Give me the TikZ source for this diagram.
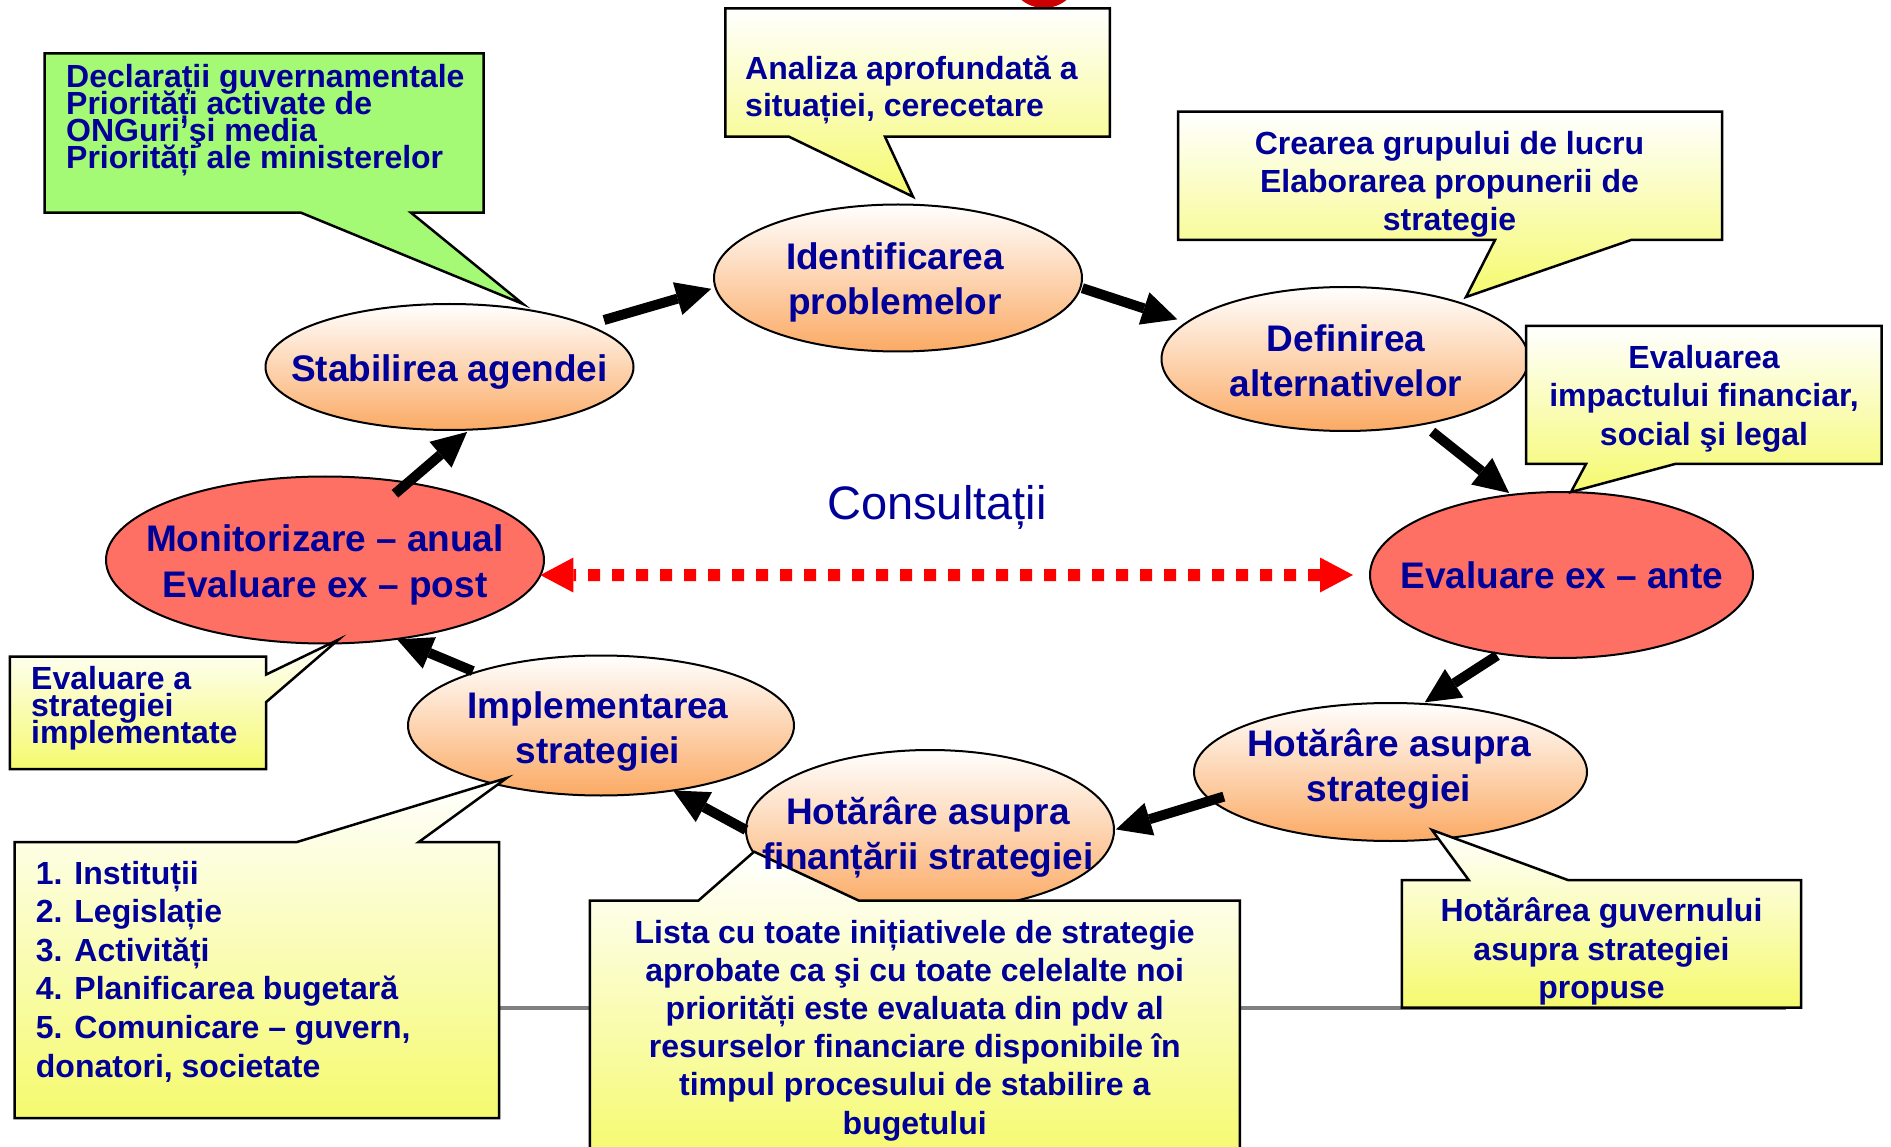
\documentclass[tikz,border=0pt]{standalone}
\usepackage{fontspec}
\setmainfont{Liberation Sans}
\usepackage{xcolor}
\usepackage{tikz}
\usetikzlibrary{shapes.geometric, arrows.meta, positioning, calc}

\definecolor{albastru}{RGB}{0,0,153}
\definecolor{portocaliu}{RGB}{251,170,100}
\definecolor{rosu}{RGB}{255,112,100}
\definecolor{rosuinchis}{RGB}{204,0,0}
\definecolor{galben}{RGB}{245,250,110}
\definecolor{verde}{RGB}{164,250,116}

\newcommand{\randstrans}{\lineskiplimit -50pt\relax}

\tikzset{
    etapa/.style={ellipse, draw=black, line width=2pt, inner sep=0pt, outer sep=0pt, top color=white, bottom color=portocaliu},
    evaluare/.style={ellipse, draw=black, line width=2pt, inner sep=0pt, outer sep=0pt, fill=rosu},
    etext/.style={text=albastru, font=\bfseries\fontsize{37}{45}\selectfont, align=center, inner sep=0pt, anchor=base},
    btext/.style={text=albastru, font=\bfseries\fontsize{32}{38}\selectfont, inner sep=0pt},
    strans/.style={font={\bfseries\fontsize{32}{27}\selectfont\randstrans}},
    balon/.style={draw=black, line width=2.5pt, top color=white, bottom color=galben},
    sageata/.style={line width=10pt, -{Triangle[length=35pt, width=34pt, line width=0pt]}},
    consult/.style={red, line width=12pt, dash pattern=on 12pt off 12pt,
        {Triangle[length=33pt, width=35pt, line width=0pt]}-{Triangle[length=33pt, width=35pt, line width=0pt]}}
}

\begin{document}
\begin{tikzpicture}[x=1pt, y=-1pt]

    \useasboundingbox (0,0) rectangle (1891,1147);
    \clip (0,0) rectangle (1891,1147);

    % Cercul rosu de sus (taiat de margine)
    \fill[rosuinchis] (1044,-27.6) circle (35.6pt);

    % Linia gri de jos, in spatele casetelor
    \draw[gray, line width=4pt] (499,1008) -- (1786,1008);

    % Etapele ciclului: elipse portocalii
    \node[etapa, minimum width=368pt, minimum height=126pt] (stab) at (449.5,367) {};
    \node[etapa, minimum width=368pt, minimum height=147pt] (ident) at (898,278) {};
    \node[etapa, minimum width=367pt, minimum height=144pt] (defin) at (1345,359) {};
    \node[etapa, minimum width=393pt, minimum height=138pt] (hotstr) at (1390.5,772) {};
    \node[etapa, minimum width=368pt, minimum height=160pt] (hotfin) at (930,830) {};
    \node[etapa, minimum width=386pt, minimum height=140pt] (impl) at (601,725.5) {};

    % Evaluarile: elipse rosii
    \node[evaluare, minimum width=383pt, minimum height=166pt] (exante) at (1561.5,575) {};
    \node[evaluare, minimum width=438pt, minimum height=167pt] (monit) at (325,560) {};

    % Baloanele cu explicatii
    \draw[line width=2.5pt, fill=verde] (44.6,53.3) -- (483.5,53.3) -- (483.5,212.7) -- (411,212.7)
        -- (523,304) -- (301,212.7) -- (44.6,212.7) -- cycle;
    \draw[balon] (725.4,8.3) -- (1109.8,8.3) -- (1109.8,136.7) -- (885,136.7)
        -- (913,196.7) -- (789,136.7) -- (725.4,136.7) -- cycle;
    \draw[balon] (1178,111.6) -- (1722,111.6) -- (1722,240) -- (1631,240)
        -- (1466,297) -- (1495,240) -- (1178,240) -- cycle;
    \draw[balon] (1526,326) -- (1881.6,326) -- (1881.6,464) -- (1675,464)
        -- (1571,492) -- (1586,464) -- (1526,464) -- cycle;
    \draw[balon] (9.8,656.7) -- (266,656.7) -- (266,674.6) -- (338.4,639.7)
        -- (266,702.2) -- (266,769) -- (9.8,769) -- cycle;
    \draw[balon] (14.7,842) -- (297,842) -- (506.7,778) -- (418.8,842)
        -- (499,842) -- (499,1118) -- (14.7,1118) -- cycle;
    \draw[balon] (589.8,900.7) -- (698.3,900.7) -- (754.1,851.7) -- (859,900.7)
        -- (1239.8,900.7) -- (1239.8,1160) -- (589.8,1160) -- cycle;
    \draw[balon] (1401.8,880) -- (1468.7,880) -- (1432,830) -- (1567.8,880)
        -- (1801,880) -- (1801,1007.7) -- (1401.8,1007.7) -- cycle;

    % Textele din elipse (ancorate pe linia de baza a ultimului rand)
    \node[etext] (stabt) at (449.5,381.7) {Stabilirea agendei};
    \node[etext] (identt) at (895,315) {Identificarea\\problemelor};
    \node[etext] (defint) at (1346,397) {Definirea\\alternativelor};
    \node[etext] (exantet) at (1562,588) {Evaluare ex – ante};
    \node[etext, font=\bfseries\fontsize{37}{45.5}\selectfont] (monitt) at (325,597.3) {Monitorizare – anual\\Evaluare ex – post};
    \node[etext] (implt) at (598,763) {Implementarea\\strategiei};
    \node[etext] (hotfint) at (928,869) {Hotărâre asupra\\finanțării strategiei};
    \node[etext] (hotstrt) at (1389,801) {Hotărâre asupra\\strategiei};

    % Textele din baloane
    \node[btext, strans, anchor=base west, align=left] (verdet) at (66,168.3)
        {Declarații guvernamentale\\Priorități activate de\\ONGuri’şi media\\Priorități ale ministerelor};
    \node[btext, anchor=base west, align=left, font=\bfseries\fontsize{32}{37}\selectfont] (analizat) at (745,117)
        {Analiza aprofundată a\\situației, cerecetare};
    \node[btext, anchor=base, align=center] (creareat) at (1449.5,231)
        {Crearea grupului de lucru\\Elaborarea propunerii de\\strategie};
    \node[btext, anchor=base, align=center, font=\bfseries\fontsize{32}{38.5}\selectfont] (evaluareat) at (1704,445.5)
        {Evaluarea\\impactului financiar,\\social şi legal};
    \node[btext, strans, anchor=base west, align=left] (evstrt) at (31,743)
        {Evaluare a\\strategiei\\implementate};
    \node[btext, anchor=base west, align=left, font=\bfseries\fontsize{32}{38.6}\selectfont] (listt) at (35.7,1077)
        {1. Instituții\\2. Legislație\\3. Activități\\4. Planificarea bugetară\\5. Comunicare – guvern,\\donatori, societate};
    \node[btext, anchor=base, align=center, font=\bfseries\fontsize{32}{38.2}\selectfont] (listat) at (914.7,1134)
        {Lista cu toate inițiativele de strategie\\aprobate ca şi cu toate celelalte noi\\priorități este evaluata din pdv al\\resurselor financiare disponibile în\\timpul procesului de stabilire a\\bugetului};
    \node[btext, anchor=base, align=center, font=\bfseries\fontsize{32}{38.3}\selectfont] (hotgt) at (1601.5,998.3)
        {Hotărârea guvernului\\asupra strategiei\\propuse};

    % Consultatii intre cele doua evaluari
    \node[text=albastru, font=\fontsize{47}{56}\selectfont, anchor=base, inner sep=0pt] (consultt) at (937,519) {Consultații};
    \draw[consult, shorten <=17pt] (exante.180) -- (monit.-4);

    % Sagetile ciclului
    \draw[sageata, shorten <=18pt, shorten >=4.5pt] (stab.17) -- (ident.183);
    \draw[sageata, shorten <=2pt, shorten >=10pt] (ident.-3) -- (defin.167);
    \draw[sageata, shorten <=12pt, shorten >=3pt] (defin.-40) -- (exante.122);
    \draw[sageata, shorten <=3.6pt, shorten >=3pt] (exante.232) -- (hotstr.65);
    \draw[sageata, shorten <=-13pt, shorten >=2pt] (hotstr.189) -- (hotfin.0);
    \draw[sageata] (hotfin.180) -- (impl.-42);
    \draw[sageata, shorten <=3pt, shorten >=1pt] (impl.157) -- (monit.-48);
    \draw[sageata, shorten <=-17pt, shorten >=3.6pt] (monit.43) -- (stab.-72);

\end{tikzpicture}
\end{document}
